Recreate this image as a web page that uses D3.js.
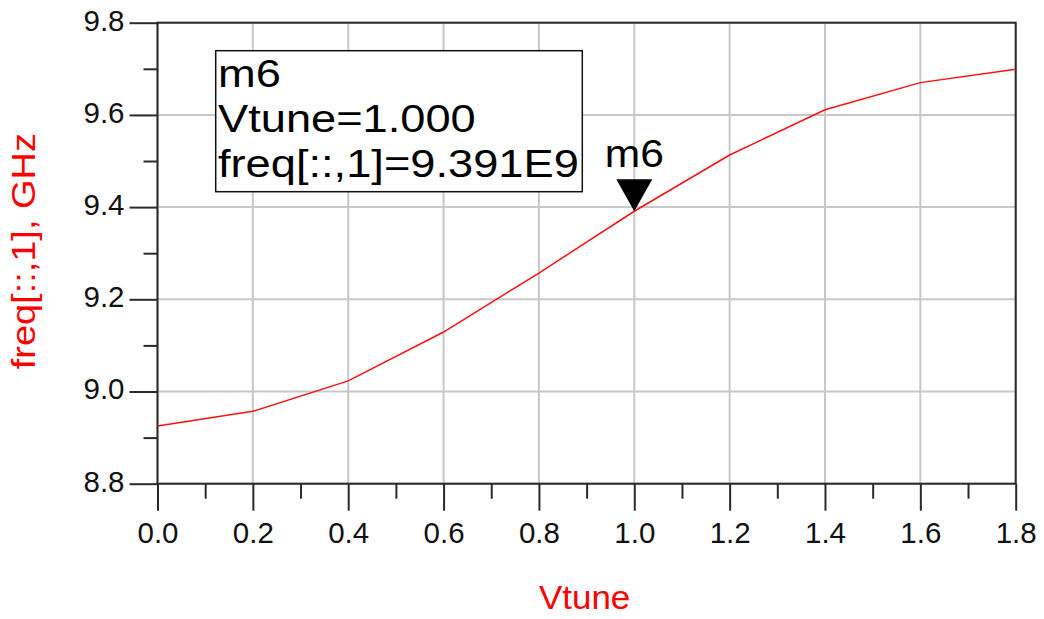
<!DOCTYPE html>
<html>
<head>
<meta charset="utf-8">
<script src="https://cdn.jsdelivr.net/npm/d3@7"></script>
<style>
  body { margin: 0; background: #fff; }
  svg { display: block; font-family: "Liberation Sans", Arial, sans-serif; }
</style>
</head>
<body>
<svg id="chart" width="1044" height="619"></svg>
<script>
// data
const vtune = [0.0, 0.2, 0.4, 0.6, 0.8, 1.0, 1.2, 1.4, 1.6, 1.8];
const freqGHz = [8.925, 8.957, 9.023, 9.129, 9.257, 9.391, 9.513, 9.611, 9.670, 9.699];
const xTicks = [0.0, 0.2, 0.4, 0.6, 0.8, 1.0, 1.2, 1.4, 1.6, 1.8];
const xMinorTicks = [0.1, 0.3, 0.5, 0.7, 0.9, 1.1, 1.3, 1.5, 1.7];
const yTicks = [8.8, 9.0, 9.2, 9.4, 9.6, 9.8];
const yMinorTicks = [8.9, 9.1, 9.3, 9.5, 9.7];
const markerName = 'm6';
const markerX = 1.0;
const markerY = 9.391;
const markerLines = ['m6', 'Vtune=1.000', 'freq[::,1]=9.391E9'];

const svg = d3.select('#chart');
const plotLeft = 157.5, plotRight = 1015.7, plotTop = 22.7, plotBottom = 483.7;
const x = d3.scaleLinear().domain([0, 1.8]).range([plotLeft, plotRight]);
const y = d3.scaleLinear().domain([8.8, 9.8]).range([plotBottom, plotTop]);
const axisColor = '#2a2a2a';

// grid
const grid = svg.append('g').attr('stroke', '#c8c8c8').attr('stroke-width', 2);
grid.selectAll('.vgrid').data(xTicks).join('line')
    .attr('x1', d => x(d)).attr('x2', d => x(d))
    .attr('y1', plotTop).attr('y2', plotBottom);
grid.selectAll('.hgrid').data(yTicks).join('line')
    .attr('x1', plotLeft).attr('x2', plotRight)
    .attr('y1', d => y(d)).attr('y2', d => y(d));

// minor ticks
svg.append('g')
    .attr('transform', `translate(0,${plotBottom})`)
    .call(d3.axisBottom(x).tickValues(xMinorTicks).tickSize(15).tickFormat(''));
svg.append('g')
    .attr('transform', `translate(${plotLeft},0)`)
    .call(d3.axisLeft(y).tickValues(yMinorTicks).tickSize(14).tickFormat(''));

// major axes
const xAxis = svg.append('g')
    .attr('transform', `translate(0,${plotBottom})`)
    .call(d3.axisBottom(x).tickValues(xTicks).tickSize(27).tickPadding(11).tickFormat(d3.format('.1f')));
const yAxis = svg.append('g')
    .attr('transform', `translate(${plotLeft},0)`)
    .call(d3.axisLeft(y).tickValues(yTicks).tickSize(28).tickPadding(5).tickFormat(d3.format('.1f')));

svg.selectAll('.domain').remove();
svg.selectAll('.tick line').attr('stroke', axisColor).attr('stroke-width', 2);
svg.selectAll('.tick text')
    .attr('font-family', '"Liberation Sans", Arial, sans-serif')
    .attr('font-size', 29.5)
    .attr('fill', '#111');
yAxis.selectAll('.tick text').attr('dy', '0.25em');

// frame
svg.append('rect')
    .attr('x', plotLeft).attr('y', plotTop)
    .attr('width', plotRight - plotLeft).attr('height', plotBottom - plotTop)
    .attr('fill', 'none').attr('stroke', axisColor).attr('stroke-width', 2);

// curve
const line = d3.line().x((d, i) => x(vtune[i])).y(d => y(d));
svg.append('path')
    .datum(freqGHz)
    .attr('d', line)
    .attr('fill', 'none')
    .attr('stroke', '#ff1010')
    .attr('stroke-width', 1.5);

// marker triangle + name
const mx = x(markerX), my = y(markerY);
svg.append('path')
    .attr('d', `M${mx},${my} L${mx - 18},${my - 32} L${mx + 18},${my - 32} Z`)
    .attr('fill', '#000');
svg.append('text')
    .attr('transform', `translate(${mx},${my - 44}) scale(1.12,1)`)
    .attr('text-anchor', 'middle')
    .attr('font-size', 38)
    .text(markerName);

// marker readout box
const box = svg.append('g');
box.append('rect')
    .attr('x', 215.7).attr('y', 50.7)
    .attr('width', 366.6).attr('height', 141)
    .attr('fill', '#fff').attr('stroke', '#111').attr('stroke-width', 1.5);
box.selectAll('text').data(markerLines).join('text')
    .attr('transform', (d, i) => `translate(218,${86.7 + i * 45}) scale(1.16,1)`)
    .attr('font-size', 39)
    .attr('fill', '#000')
    .text(d => d);

// axis titles
svg.append('text')
    .attr('transform', `translate(${(plotLeft + plotRight) / 2 - 2},609) scale(1.06,1)`)
    .attr('text-anchor', 'middle')
    .attr('font-size', 33)
    .attr('fill', '#ff0000')
    .text('Vtune');
svg.append('text')
    .attr('transform', `translate(35,${(plotTop + plotBottom) / 2 - 2}) rotate(-90) scale(1.15,1)`)
    .attr('text-anchor', 'middle')
    .attr('font-size', 33)
    .attr('fill', '#ff0000')
    .text('freq[::,1], GHz');
</script>
</body>
</html>
